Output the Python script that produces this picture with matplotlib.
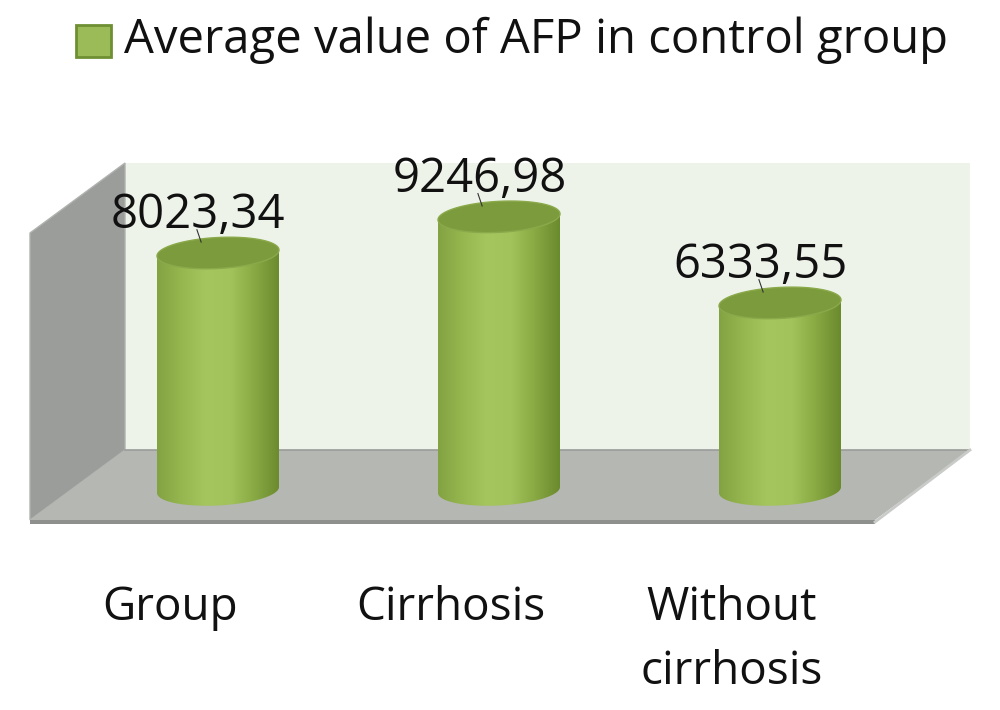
import numpy as np
import matplotlib.pyplot as plt
from matplotlib.patches import Polygon
from matplotlib.colors import LinearSegmentedColormap

categories = ["Group", "Cirrhosis", "Without\ncirrhosis"]
values = [8023.34, 9246.98, 6333.55]
value_labels = ["8023,34", "9246,98", "6333,55"]
legend_label = "Average value of AFP in control group"

W, H = 1000, 710
FONT = "Open Sans"

fig = plt.figure(figsize=(W / 100, H / 100), dpi=100)
ax = fig.add_axes([0, 0, 1, 1])
# x: category index, 281 px apart, first centre at 218 px
# y: value, 0 at 490 px from top, ~0.02954 px per unit
ppu = 0.02954
ax.set_xlim((0 - 218) / 281, (W - 218) / 281)
ax.set_ylim(-(H - 490) / ppu, 490 / ppu)
ax.axis("off")


def px(x, y):
    # pixel (from top-left) -> axes fraction, only for the box decoration
    return (x / W, 1 - y / H)


def poly(points, **kw):
    ax.add_patch(Polygon([px(*p) for p in points], closed=True,
                         transform=ax.transAxes, **kw))


# 3D box: back wall, left wall, floor
poly([(125, 163), (970, 163), (970, 450), (125, 450)], facecolor="#eef3ea", edgecolor="none")
poly([(30, 233), (125, 163), (125, 450), (30, 520)], facecolor="#9b9d9b", edgecolor="#b0b2b0", lw=1)
poly([(30, 520), (125, 450), (970, 450), (875, 520)], facecolor="#b5b7b3", edgecolor="none")
poly([(30, 520), (875, 520), (875, 524), (30, 524)], facecolor="#8e908e", edgecolor="none")
ax.plot([px(125, 450)[0], px(970, 450)[0]], [px(125, 450)[1]] * 2, color="#9a9c9a",
        lw=1.2, transform=ax.transAxes)
ax.plot([px(875, 522)[0], px(970, 450)[0]], [px(875, 522)[1], px(970, 450)[1]],
        color="#c9cbc8", lw=2, transform=ax.transAxes)

# cylinders
bar_w = 122 / 281
cap_h = 31 / ppu
tilt = 3 / ppu  # right end of each ellipse sits a little higher
cmap = LinearSegmentedColormap.from_list(
    "cyl", ["#83a343", "#96b64f", "#a5c55e", "#a2c25b", "#88a843", "#6a8a2e"])
grad = np.linspace(0, 1, 256).reshape(1, -1)


def ellipse_pts(cx, cy, t):
    return list(zip(cx + bar_w / 2 * np.cos(t), cy + cap_h / 2 * np.sin(t) + tilt * np.cos(t)))


for i, v in enumerate(values):
    x0, x1 = i - bar_w / 2, i + bar_w / 2
    t_low = np.linspace(np.pi, 2 * np.pi, 60)
    verts = [(x0, v - tilt)] + ellipse_pts(i, 0, t_low) + [(x1, v + tilt), (x0, v - tilt)]
    im = ax.imshow(grad, cmap=cmap, aspect="auto", extent=(x0, x1, -cap_h, v + cap_h),
                   zorder=3, interpolation="bicubic")
    clip = Polygon(verts, closed=True, transform=ax.transData, facecolor="none", edgecolor="none")
    ax.add_patch(clip)
    im.set_clip_path(clip)
    cap = ellipse_pts(i, v, np.linspace(0, 2 * np.pi, 120))
    ax.add_patch(Polygon(cap, closed=True, facecolor="#7c9b3c", edgecolor="#8aa94a",
                         lw=1, zorder=4))
    # value label with leader line
    ax.plot([i - 0.06, i - 0.075], [v + cap_h * 0.35, v + cap_h * 0.75], color="#333333",
            lw=0.8, zorder=5)
    ax.text(i - 0.07, v + cap_h / 2 + 22 / ppu, value_labels[i], ha="center",
            va="center", fontsize=34, family=FONT, color="#111111", zorder=6)

# category labels at the front of the floor, 64 px per line
for i, c in enumerate(categories):
    for k, line in enumerate(c.split("\n")):
        ax.text(i - 48 / 281, -(608 + 64 * k - 490) / ppu, line, ha="center", va="center",
                fontsize=33, family=FONT, color="#111111")

# legend
poly([(76, 25), (111, 25), (111, 57), (76, 57)], facecolor="#9bbb59", edgecolor="#6f8f33", lw=2)
ax.text(*px(124, 40), legend_label, transform=ax.transAxes, ha="left", va="center",
        fontsize=34, family=FONT, color="#111111")

fig.savefig("out.png", dpi=100)
